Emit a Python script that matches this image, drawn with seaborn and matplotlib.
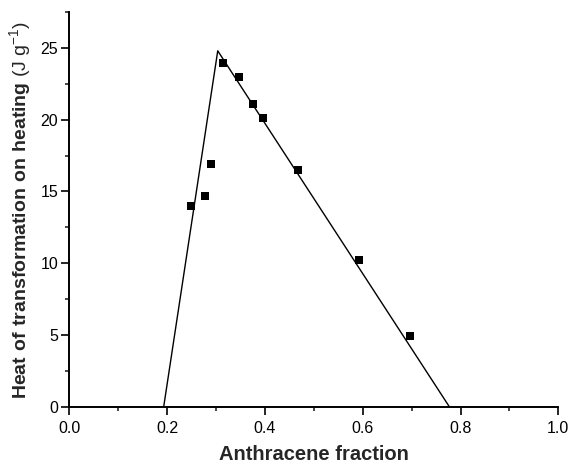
import numpy as np
import pandas as pd
import seaborn as sns
import matplotlib.pyplot as plt
from matplotlib.ticker import MultipleLocator

# measured points
fraction = [0.248, 0.2775, 0.290, 0.315, 0.347, 0.375, 0.396, 0.468, 0.592, 0.697]
heat = [14.0, 14.7, 16.9, 23.95, 23.0, 21.1, 20.15, 16.5, 10.2, 4.9]

# fitted lines (two straight segments meeting at the apex)
fit_x = [0.193, 0.3035, 0.777]
fit_y = [0.0, 24.8, 0.0]

sns.set_theme(style='ticks')
plt.rcParams['font.family'] = ['Liberation Sans', 'DejaVu Sans']
plt.rcParams['mathtext.fontset'] = 'custom'
plt.rcParams['mathtext.rm'] = 'Liberation Sans'
plt.rcParams['mathtext.bf'] = 'Liberation Sans:bold'

fig = plt.figure(figsize=(5.7, 4.65), dpi=100)
ax = fig.add_axes([0.1216, 0.1254, 0.858, 0.8486])

sns.lineplot(x=fit_x, y=fit_y, sort=False, color='black', linewidth=1.0, ax=ax)
sns.scatterplot(x=fraction, y=heat, marker='s', s=36, color='black',
                edgecolor='black', linewidth=0, ax=ax, zorder=3)

ax.set_xlim(0, 1.0)
ax.set_ylim(0, 27.5)
ax.xaxis.set_major_locator(MultipleLocator(0.2))
ax.xaxis.set_minor_locator(MultipleLocator(0.1))
ax.yaxis.set_major_locator(MultipleLocator(5))
ax.yaxis.set_minor_locator(MultipleLocator(2.5))
ax.tick_params(which='major', length=5.5, width=1.2, labelsize=11.5, colors='black')
ax.tick_params(which='minor', length=3, width=1.2)
ax.tick_params(axis='x', which='major', pad=4.5)
ax.tick_params(axis='y', which='major', pad=2.5)

sns.despine(ax=ax)
for s in ['left', 'bottom']:
    ax.spines[s].set_linewidth(1.4)
    ax.spines[s].set_color('black')

ax.set_xlabel('Anthracene fraction', fontsize=14.5, fontweight='bold', labelpad=7)
ax.set_ylabel(r'$\bf{Heat\ of\ transformation\ on\ heating}$ (J g$^{-1}$)',
              fontsize=14, labelpad=5)

fig.savefig('out.png', dpi=100)
